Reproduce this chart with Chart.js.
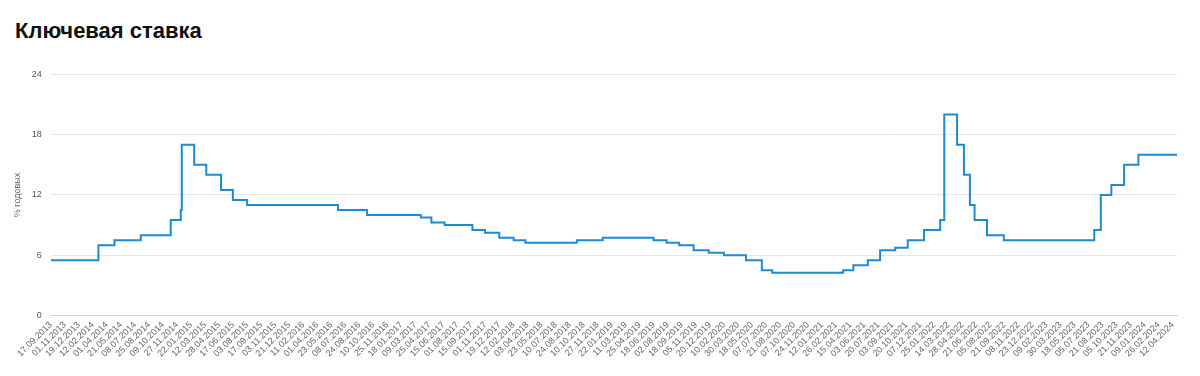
<!DOCTYPE html>
<html lang="ru">
<head>
    <meta charset="UTF-8">
    <title>Ключевая ставка</title>
    <script src="https://cdn.jsdelivr.net/npm/chart.js@4.4.1/dist/chart.umd.min.js"></script>
    <style>
        body {
            margin: 0;
            background: #fff;
            font-family: "Liberation Sans", Arial, sans-serif;
        }
        h1 {
            position: absolute;
            left: 15px;
            top: 20px;
            margin: 0;
            font-size: 22px;
            line-height: 22px;
            font-weight: bold;
            color: #111;
        }
        .wrap {
            position: absolute;
            left: 0;
            top: 60px;
            width: 1200px;
            height: 316px;
        }
    </style>
</head>
<body>
<h1>Ключевая ставка</h1>
<div class="wrap"><canvas id="rateChart"></canvas></div>

<script>
// подписи оси X (как на исходном графике)
const tickLabels = [
  "17.09.2013","01.11.2013","19.12.2013","12.02.2014","01.04.2014","21.05.2014","08.07.2014","25.08.2014",
  "09.10.2014","27.11.2014","22.01.2015","12.03.2015","28.04.2015","17.06.2015","03.08.2015","17.09.2015",
  "03.11.2015","21.12.2015","11.02.2016","01.04.2016","23.05.2016","08.07.2016","24.08.2016","10.10.2016",
  "25.11.2016","18.01.2017","09.03.2017","25.04.2017","15.06.2017","01.08.2017","15.09.2017","01.11.2017",
  "19.12.2017","12.02.2018","03.04.2018","23.05.2018","10.07.2018","24.08.2018","10.10.2018","27.11.2018",
  "22.01.2019","11.03.2019","25.04.2019","18.06.2019","02.08.2019","18.09.2019","05.11.2019","20.12.2019",
  "10.02.2020","30.03.2020","18.05.2020","07.07.2020","21.08.2020","07.10.2020","24.11.2020","12.01.2021",
  "26.02.2021","15.04.2021","03.06.2021","20.07.2021","03.09.2021","20.10.2021","07.12.2021","25.01.2022",
  "14.03.2022","28.04.2022","21.06.2022","05.08.2022","21.09.2022","08.11.2022","23.12.2022","09.02.2023",
  "30.03.2023","18.05.2023","05.07.2023","21.08.2023","05.10.2023","21.11.2023","09.01.2024","26.02.2024",
  "12.04.2024"
];

// даты изменения ставки и новое значение
const changeDates = [
  "17.09.2013","03.03.2014","28.04.2014","28.07.2014","05.11.2014","12.12.2014","16.12.2014",
  "02.02.2015","16.03.2015","05.05.2015","16.06.2015","03.08.2015","14.06.2016","19.09.2016",
  "27.03.2017","02.05.2017","19.06.2017","18.09.2017","30.10.2017","18.12.2017","12.02.2018",
  "26.03.2018","17.09.2018","17.12.2018","17.06.2019","29.07.2019","09.09.2019","28.10.2019",
  "16.12.2019","10.02.2020","27.04.2020","22.06.2020","27.07.2020","22.03.2021","26.04.2021",
  "15.06.2021","26.07.2021","13.09.2021","25.10.2021","20.12.2021","14.02.2022","28.02.2022",
  "11.04.2022","04.05.2022","27.05.2022","14.06.2022","25.07.2022","19.09.2022","24.07.2023",
  "15.08.2023","18.09.2023","30.10.2023","18.12.2023","26.04.2024"
];
const rates = [
  5.5, 7, 7.5, 8, 9.5, 10.5, 17,
  15, 14, 12.5, 11.5, 11, 10.5, 10,
  9.75, 9.25, 9, 8.5, 8.25, 7.75, 7.5,
  7.25, 7.5, 7.75, 7.5, 7.25, 7, 6.5,
  6.25, 6, 5.5, 4.5, 4.25, 4.5, 5,
  5.5, 6.5, 6.75, 7.5, 8.5, 9.5, 20,
  17, 14, 11, 9.5, 8, 7.5, 8.5,
  12, 13, 15, 16, 16
];

const yTicks = [0, 6, 12, 18, 24];

function toDay(s) {
  const p = s.split(".");
  return Date.UTC(+p[2], +p[1] - 1, +p[0]) / 86400000;
}

const labelDays = tickLabels.map(toDay);

// позиция даты на оси в единицах подписей
function axisPos(s) {
  const d = toDay(s);
  let i = 0;
  while (i < labelDays.length - 2 && d > labelDays[i + 1]) i++;
  return i + (d - labelDays[i]) / (labelDays[i + 1] - labelDays[i]);
}

const points = changeDates.map((d, i) => ({ x: axisPos(d), y: rates[i] }));
const xMax = points[points.length - 1].x;

new Chart("rateChart", {
  type: "line",
  data: {
    datasets: [{
      data: points,
      stepped: true,
      borderColor: "#1b8cd3",
      borderWidth: 2,
      pointRadius: 0,
      fill: false
    }]
  },
  options: {
    responsive: true,
    maintainAspectRatio: false,
    animation: false,
    layout: { padding: { left: 12, right: 23, top: 10, bottom: 13 } },
    plugins: {
      legend: { display: false },
      tooltip: { enabled: false }
    },
    scales: {
      x: {
        type: "linear",
        min: 0,
        max: xMax,
        afterBuildTicks: axis => {
          axis.ticks = tickLabels.map((_, i) => ({ value: i }));
        },
        grid: { display: false, drawTicks: false },
        border: { display: true, color: "#ccd6eb", width: 1 },
        ticks: {
          autoSkip: false,
          maxRotation: 45,
          minRotation: 45,
          padding: 4,
          color: "#666",
          font: { size: 9, family: "'Liberation Sans', Arial, sans-serif" },
          callback: (v) => tickLabels[v]
        }
      },
      y: {
        min: 0,
        max: 24,
        afterBuildTicks: axis => {
          axis.ticks = yTicks.map(v => ({ value: v }));
        },
        grid: { color: "#e6e6e6", drawTicks: false },
        border: { display: false },
        ticks: {
          padding: 9,
          color: "#555",
          font: { size: 9, family: "'Liberation Sans', Arial, sans-serif" }
        },
        title: {
          display: true,
          text: "% годовых",
          color: "#666",
          padding: { top: 0, bottom: 0 },
          font: { size: 9, family: "'Liberation Sans', Arial, sans-serif" }
        }
      }
    }
  }
});
</script>
</body>
</html>
